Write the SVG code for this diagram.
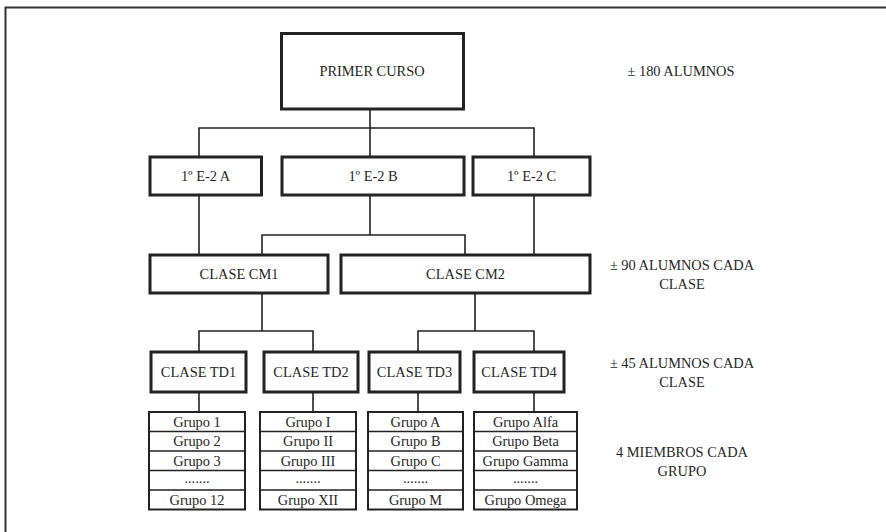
<svg xmlns="http://www.w3.org/2000/svg" width="886" height="532" viewBox="0 0 886 532">
<style>
.box{fill:#fff;stroke:#222;stroke-width:3}
.gbox{fill:#fff;stroke:#222;stroke-width:2}
.gline{stroke:#222;stroke-width:1.5}
.con{fill:none;stroke:#222;stroke-width:1.6}
.frame{fill:none;stroke:#333;stroke-width:2}
text{font-family:'Liberation Serif','DejaVu Serif',serif;font-size:14.4px;fill:#262626;text-anchor:middle}
</style>
<rect width="886" height="532" fill="#fff"/>
<path class="frame" d="M5.5,532 V7.5 H886"/>
<g id="connectors">
<path class="con" d="M370,109 V157 M199,157 V128 H534 V157"/>
<path class="con" d="M199,195 V255 M534,195 V255 M370,195 V235 M262,255 V235 H465 V255"/>
<path class="con" d="M262,293 V331 M199,352 V331 H313 V352"/>
<path class="con" d="M475,293 V331 M418,352 V331 H534 V352"/>
<path class="con" d="M199,392 V412 M313,392 V412 M418,392 V412 M534,392 V412"/>
</g>
<g font-family="Liberation Serif, serif">
<g id="primer-curso"><rect class="box" x="281.5" y="33.5" width="182" height="75.5"/><text x="372" y="76">PRIMER CURSO</text></g>
<g id="e2a"><rect class="box" x="150" y="157" width="111.5" height="38"/><text x="205.5" y="181">1º E-2 A</text></g>
<g id="e2b"><rect class="box" x="282" y="157" width="182" height="38"/><text x="373" y="181">1º E-2 B</text></g>
<g id="e2c"><rect class="box" x="473" y="157" width="117" height="38"/><text x="531.5" y="181">1º E-2 C</text></g>
<g id="cm1"><rect class="box" x="150" y="255" width="178" height="38"/><text x="239" y="279">CLASE CM1</text></g>
<g id="cm2"><rect class="box" x="341" y="255" width="249" height="38"/><text x="465.5" y="279">CLASE CM2</text></g>
<g id="td1"><rect class="box" x="151" y="352" width="95" height="40"/><text x="198.5" y="377">CLASE TD1</text></g>
<g id="td2"><rect class="box" x="264" y="352" width="94" height="40"/><text x="311" y="377">CLASE TD2</text></g>
<g id="td3"><rect class="box" x="369" y="352" width="91" height="40"/><text x="414.5" y="377">CLASE TD3</text></g>
<g id="td4"><rect class="box" x="474" y="352" width="90" height="40"/><text x="519" y="377">CLASE TD4</text></g>
<g id="grupos-td1">
<rect class="gbox" x="149" y="412" width="96" height="97.5"/>
<path class="gline" d="M149,431.5 H245 M149,451 H245 M149,470.5 H245 M149,490 H245"/>
<text x="197" y="426.5">Grupo 1</text><text x="197" y="446">Grupo 2</text><text x="197" y="465.5">Grupo 3</text><text x="197" y="483">.......</text><text x="197" y="504.5">Grupo 12</text>
</g>
<g id="grupos-td2">
<rect class="gbox" x="260" y="412" width="96" height="97.5"/>
<path class="gline" d="M260,431.5 H356 M260,451 H356 M260,470.5 H356 M260,490 H356"/>
<text x="308" y="426.5">Grupo I</text><text x="308" y="446">Grupo II</text><text x="308" y="465.5">Grupo III</text><text x="308" y="483">.......</text><text x="308" y="504.5">Grupo XII</text>
</g>
<g id="grupos-td3">
<rect class="gbox" x="368" y="412" width="95" height="97.5"/>
<path class="gline" d="M368,431.5 H463 M368,451 H463 M368,470.5 H463 M368,490 H463"/>
<text x="415.5" y="426.5">Grupo A</text><text x="415.5" y="446">Grupo B</text><text x="415.5" y="465.5">Grupo C</text><text x="415.5" y="483">.......</text><text x="415.5" y="504.5">Grupo M</text>
</g>
<g id="grupos-td4">
<rect class="gbox" x="474" y="412" width="103" height="97.5"/>
<path class="gline" d="M474,431.5 H577 M474,451 H577 M474,470.5 H577 M474,490 H577"/>
<text x="525.5" y="426.5">Grupo Alfa</text><text x="525.5" y="446">Grupo Beta</text><text x="525.5" y="465.5">Grupo Gamma</text><text x="525.5" y="483">.......</text><text x="525.5" y="504.5">Grupo Omega</text>
</g>
<g id="labels">
<text x="681" y="76">± 180 ALUMNOS</text>
<text x="682" y="270">± 90 ALUMNOS CADA</text><text x="682" y="289">CLASE</text>
<text x="682" y="368">± 45 ALUMNOS CADA</text><text x="682" y="387">CLASE</text>
<text x="682" y="457">4 MIEMBROS CADA</text><text x="682" y="476">GRUPO</text>
</g>
</g>
</svg>
